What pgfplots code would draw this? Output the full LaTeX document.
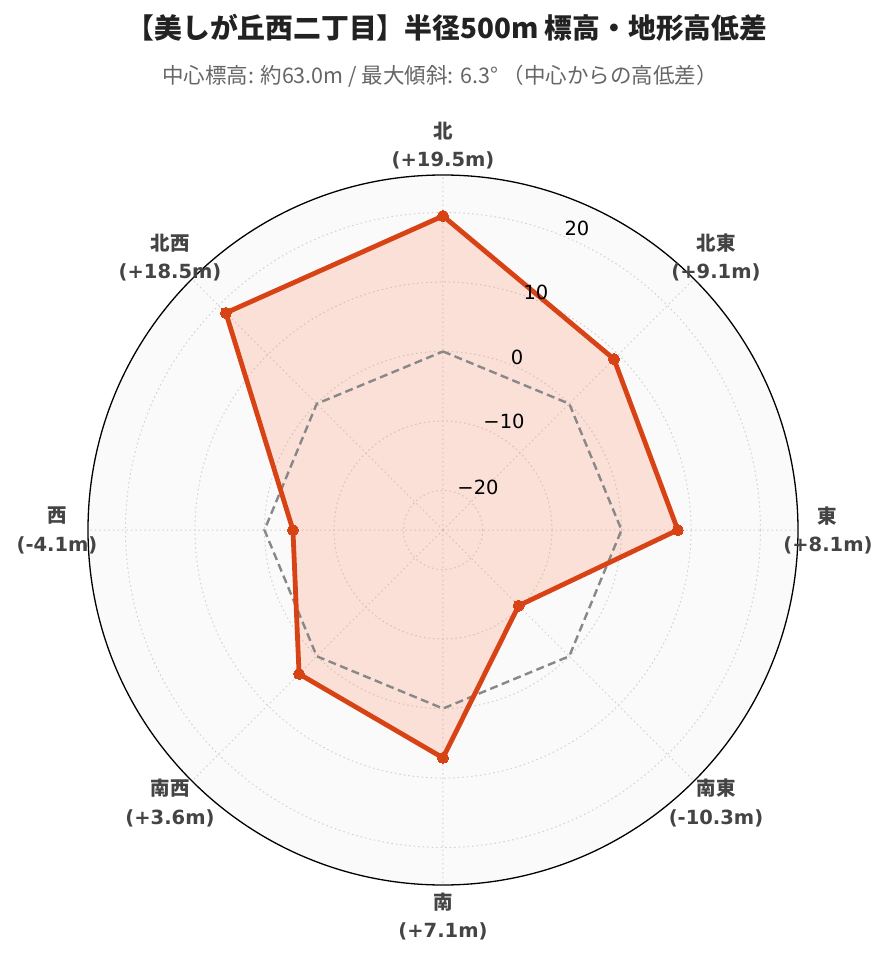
\documentclass[border=0pt]{standalone}
\usepackage{fontspec}
\setmainfont{DejaVu Sans}
\newfontfamily\cjk{Noto Sans CJK JP}
\usepackage{pgfplots}
\usepackage{pgfplotstable}
\pgfplotsset{compat=1.18}
\usepgfplotslibrary{polar}
\definecolor{lineC}{RGB}{216,67,21}
\definecolor{fillC}{RGB}{255,120,80}
\definecolor{gridC}{RGB}{210,210,210}
\definecolor{bgC}{RGB}{250,250,250}
\definecolor{refC}{RGB}{136,136,136}
\definecolor{labC}{RGB}{68,68,68}
\definecolor{subC}{RGB}{102,102,102}
\definecolor{titC}{RGB}{34,34,34}

% elevation difference from centre (m); angle: 90=N, clockwise
\pgfplotstableread{
ang r
90 19.5
45 9.1
0 8.1
315 -10.3
270 7.1
225 3.6
180 -4.1
135 18.5
90 19.5
}\elev

\pgfplotstableread{
ang r
90 0
45 0
0 0
315 0
270 0
225 0
180 0
135 0
90 0
}\zeroref

\begin{document}
\begin{tikzpicture}[x=1pt,y=1pt]
\path[use as bounding box, fill=white] (0,0) rectangle (889,962);
\fill[bgC] (443,432) circle (355);
\begin{polaraxis}[
  at={(443pt,432pt)}, anchor=center,
  scale only axis, width=710pt, height=710pt,
  xmin=0, xmax=360, ymin=0, ymax=51.1,
  xtick={0,45,...,315}, xticklabels={},
  ytick={5.7,15.7,25.7,35.7,45.7}, yticklabels={},
  major tick length=0pt,
  grid=major,
  major grid style={gridC, line width=1pt, dash pattern=on 1.5pt off 3pt},
  x axis line style={black, line width=1.3pt},
  y axis line style={draw=none},
  clip=false,
]
\addplot[draw=none, fill=fillC, fill opacity=0.2, no marks]
  table[x=ang, y expr=\thisrow{r}+25.7] {\elev};
\addplot[refC, line width=2.4pt, dash pattern=on 8pt off 4.5pt, no marks]
  table[x=ang, y expr=\thisrow{r}+25.7] {\zeroref};
\addplot[lineC, line width=4.8pt, line join=round, mark=*, mark size=5.5pt,
  mark options={fill=lineC, draw=lineC, line width=0pt}]
  table[x=ang, y expr=\thisrow{r}+25.7] {\elev};
\end{polaraxis}

% titles
\node[font={\cjk\bfseries\fontsize{27.8}{32}\selectfont}, text=titC] at (447,934)
  {【美しが丘西二丁目】半径500m 標高・地形高低差};
\node[font={\cjk\fontsize{21.5}{25}\selectfont}, text=subC] at (440,886)
  {中心標高: 約63.0m / 最大傾斜: 6.3° （中心からの高低差）};

% radial tick labels
\begin{scope}[every node/.style={font=\fontsize{19.5}{23}\selectfont, text=black}]
\node at (577,734) {20};
\node at (536,670) {10};
\node at (517,605) {0};
\node at (504,541) {−10};
\node at (478,475) {−20};
\end{scope}

% angular labels
\begin{scope}[cj/.style={font={\cjk\bfseries\fontsize{19.5}{23}\selectfont}, text=labC},
              vl/.style={font={\bfseries\fontsize{19.5}{23}\selectfont}, text=labC}]
\node[cj] at (443,831) {北};   \node[vl] at (443,802) {(+19.5m)};
\node[cj] at (716,719) {北東}; \node[vl] at (716,690) {(+9.1m)};
\node[cj] at (827,446) {東};   \node[vl] at (828,417) {(+8.1m)};
\node[cj] at (716,174) {南東}; \node[vl] at (716,144) {(-10.3m)};
\node[cj] at (443,60)  {南};   \node[vl] at (443,31)  {(+7.1m)};
\node[cj] at (170,174) {南西}; \node[vl] at (170,144) {(+3.6m)};
\node[cj] at (57,446)  {西};   \node[vl] at (57,417)  {(-4.1m)};
\node[cj] at (170,719) {北西}; \node[vl] at (170,690) {(+18.5m)};
\end{scope}
\end{tikzpicture}
\end{document}
